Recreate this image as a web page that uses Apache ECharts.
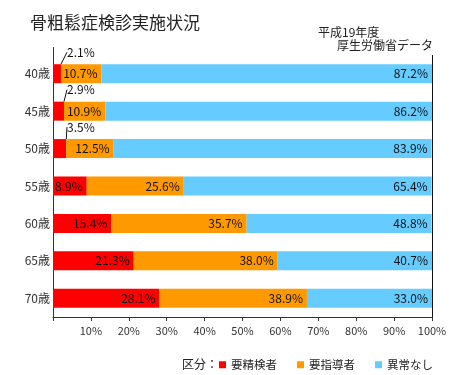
<!DOCTYPE html>
<html style="height: 100%">
<head>
<meta charset="utf-8">
<script src="https://cdn.jsdelivr.net/npm/echarts@6/dist/echarts.min.js"></script>
</head>
<body style="height: 100%; margin: 0">
<div id="container" style="width: 466px; height: 375px"></div>
<script type="text/javascript">
var ages = ['40歳', '45歳', '50歳', '55歳', '60歳', '65歳', '70歳'];
var seisen = [2.1, 2.9, 3.5, 8.9, 15.4, 21.3, 28.1];   // 要精検者
var shidou = [10.7, 10.9, 12.5, 25.6, 35.7, 38.0, 38.9]; // 要指導者
var ijounashi = [87.2, 86.2, 83.9, 65.4, 48.8, 40.7, 33.0]; // 異常なし
var xTicks = [10, 20, 30, 40, 50, 60, 70, 80, 90, 100];

var font = '"Noto Sans CJK JP", "Noto Sans", sans-serif';
var gridLeft = 53, gridTop = 55;

var dom = document.getElementById('container');
var myChart = echarts.init(dom);

function pct(p) { return p.value.toFixed(1) + '%'; }

var labelBase = {
    show: true,
    position: 'insideRight',
    distance: 4,
    color: '#111',
    fontSize: 12,
    fontFamily: font,
    formatter: pct
};

var option = {
    animation: false,
    textStyle: { fontFamily: font },
    title: [
        { text: '骨粗鬆症検診実施状況', left: 25, top: 9,
          textStyle: { fontSize: 17, fontWeight: 'normal', color: '#222', fontFamily: font } },
        { text: '平成19年度', left: 313, top: 21,
          textStyle: { fontSize: 12, fontWeight: 'normal', color: '#222', fontFamily: font } },
        { text: '厚生労働省データ', left: 332, top: 34,
          textStyle: { fontSize: 12, fontWeight: 'normal', color: '#222', fontFamily: font } },
        { text: '区分：', left: 177, top: 353,
          textStyle: { fontSize: 12, fontWeight: 'normal', color: '#222', fontFamily: font } }
    ],
    legend: {
        left: 214,
        top: 354,
        itemWidth: 7,
        itemHeight: 7,
        itemGap: 20,
        icon: 'rect',
        textStyle: { fontSize: 11.5, color: '#222', fontFamily: font }
    },
    grid: { left: gridLeft, right: 34, top: gridTop, bottom: 58 },
    xAxis: {
        type: 'value',
        min: 0,
        max: 100,
        interval: 10,
        splitLine: { show: false },
        axisLine: { show: true, lineStyle: { color: '#333' } },
        axisTick: { show: true, length: 4, lineStyle: { color: '#333' } },
        axisLabel: {
            margin: 8,
            fontSize: 11,
            color: '#333',
            fontFamily: font,
            formatter: function (v) { return xTicks.indexOf(v) >= 0 ? v + '%' : ''; }
        }
    },
    yAxis: {
        type: 'category',
        data: ages,
        inverse: true,
        axisLine: { show: true, lineStyle: { color: '#333' } },
        axisTick: { show: false },
        axisLabel: { margin: 3, fontSize: 12, color: '#333', fontFamily: font }
    },
    graphic: [
        { type: 'line', shape: { x1: gridLeft + 0.5, y1: 47, x2: gridLeft + 0.5, y2: gridTop },
          style: { stroke: '#333', lineWidth: 1 }, silent: true }
    ],
    series: [
        {
            name: '要精検者',
            type: 'bar',
            stack: 'total',
            barWidth: 19,
            itemStyle: { color: '#FF0000' },
            label: labelBase,
            labelLine: { show: true, lineStyle: { color: '#111', width: 1 } },
            labelLayout: function (p) {
                if (seisen[p.dataIndex] < 5) {
                    return { x: p.rect.x + 14, y: p.rect.y - 12, align: 'left', verticalAlign: 'middle' };
                }
            },
            data: seisen
        },
        {
            name: '要指導者',
            type: 'bar',
            stack: 'total',
            barWidth: 19,
            itemStyle: { color: '#FF9900' },
            label: labelBase,
            data: shidou
        },
        {
            name: '異常なし',
            type: 'bar',
            stack: 'total',
            barWidth: 19,
            itemStyle: { color: '#66CCFF' },
            label: labelBase,
            markLine: {
                silent: true,
                symbol: 'none',
                label: { show: false },
                lineStyle: { color: '#111', type: 'solid', width: 1 },
                data: [{ xAxis: 100 }]
            },
            data: ijounashi
        }
    ]
};

myChart.setOption(option);
</script>
</body>
</html>
